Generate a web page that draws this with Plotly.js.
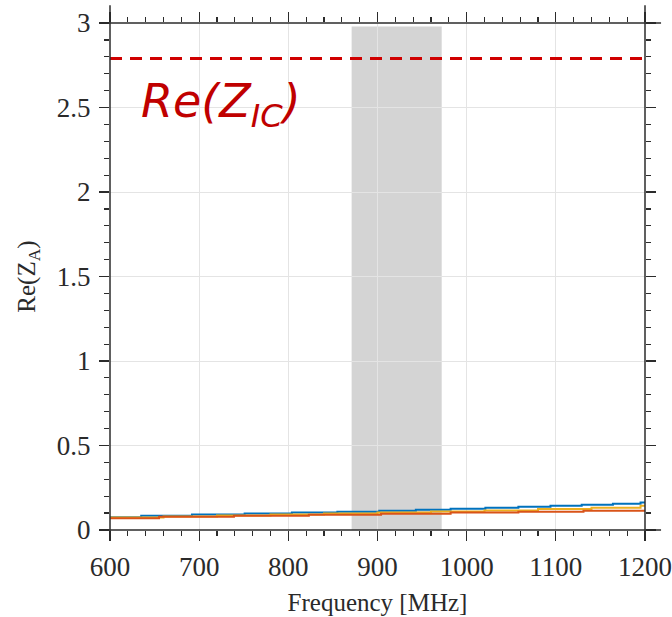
<!DOCTYPE html>
<html>
<head>
<meta charset="utf-8">
<script src="https://cdn.plot.ly/plotly-3.0.1.min.js"></script>
<style>html,body{margin:0;padding:0;background:#fff;}#chart{width:672px;height:617px;}</style>
</head>
<body>
<div id="chart"></div>
<script>
// Frequencies (MHz) and Re(Z_A) values (step traces)
var blueFreq  = [600, 635, 692, 751, 804, 855, 902, 943, 982, 1021, 1058, 1094, 1129, 1164, 1195, 1200];
var blueVal   = [0.076, 0.084, 0.092, 0.098, 0.104, 0.108, 0.114, 0.120, 0.126, 0.132, 0.138, 0.144, 0.150, 0.156, 0.162, 0.162];
var yellowFreq = [600, 660, 720, 780, 840, 900, 960, 1020, 1080, 1140, 1195, 1200];
var yellowVal  = [0.074, 0.080, 0.086, 0.092, 0.098, 0.104, 0.110, 0.116, 0.124, 0.132, 0.144, 0.144];
var orangeFreq = [600, 655, 739, 823, 904, 982, 1058, 1131, 1200];
var orangeVal  = [0.070, 0.078, 0.084, 0.090, 0.096, 0.104, 0.108, 0.114, 0.114];
// Reference level Re(Z_IC)
var icFreq = [600, 1200];
var icVal  = [2.79, 2.79];
// Shaded band (MHz)
var bandStart = 871, bandEnd = 972;
var bandLow = -0.01, bandHigh = 2.98;
var xTicks = [600, 700, 800, 900, 1000, 1100, 1200];
var yTicks = [0, 0.5, 1, 1.5, 2, 2.5, 3];
var yTickText = ['0', '0.5', '1', '1.5', '2', '2.5', '3'];

var serif = 'Liberation Serif, DejaVu Serif, serif';
var axisCol = '#2b2b2b';
var textCol = '#2a2a2a';

var traces = [
  {x: blueFreq, y: blueVal, mode: 'lines', line: {shape: 'hv', color: '#0072BD', width: 2}, hoverinfo: 'skip'},
  {x: yellowFreq, y: yellowVal, mode: 'lines', line: {shape: 'hv', color: '#EDB120', width: 2}, hoverinfo: 'skip'},
  {x: orangeFreq, y: orangeVal, mode: 'lines', line: {shape: 'hv', color: '#D95319', width: 2}, hoverinfo: 'skip'},
  {x: icFreq, y: icVal, mode: 'lines', line: {color: '#D00000', width: 3, dash: '12px,8px'}, hoverinfo: 'skip'}
];

var axCommon = {
  showline: false,
  mirror: 'ticks',
  ticks: 'outside',
  ticklen: 10,
  tickwidth: 1.3,
  tickcolor: axisCol,
  showgrid: true,
  gridcolor: '#e4e4e4',
  gridwidth: 1,
  zeroline: false,
  tickfont: {family: serif, size: 27, color: textCol}
};

var layout = {
  width: 672, height: 617,
  margin: {l: 110, r: 27, t: 23, b: 87},
  paper_bgcolor: '#fff', plot_bgcolor: '#fff',
  showlegend: false,
  xaxis: Object.assign({}, axCommon, {
    range: [600, 1200],
    tickvals: xTicks,
    ticktext: xTicks.map(String),
    ticklabelstandoff: 3,
    minor: {dtick: 20, tick0: 600, ticks: 'outside', ticklen: 5, tickwidth: 1.2, tickcolor: axisCol, showgrid: false},
    title: {text: 'Frequency [MHz]', font: {family: serif, size: 25, color: textCol}, standoff: 12}
  }),
  yaxis: Object.assign({}, axCommon, {
    range: [0, 3],
    tickvals: yTicks,
    ticktext: yTickText,
    ticklabelstandoff: 3,
    minor: {dtick: 0.1, tick0: 0, ticks: 'outside', ticklen: 5, tickwidth: 1.2, tickcolor: axisCol, showgrid: false},
    title: {text: 'Re(Z<sub>A</sub>)', font: {family: serif, size: 25, color: textCol}, standoff: 14}
  }),
  shapes: [
    {type: 'rect', xref: 'x', yref: 'y', x0: bandStart, x1: bandEnd, y0: bandLow, y1: bandHigh,
     fillcolor: '#d4d4d4', line: {width: 0}, layer: 'below'},
    // axis frame lines (extending slightly past the corners)
    {type: 'line', xref: 'paper', yref: 'paper', x0: -0.019, x1: 1.03, y0: 0, y1: 0, line: {color: axisCol, width: 1.5}},
    {type: 'line', xref: 'paper', yref: 'paper', x0: -0.019, x1: 1.03, y0: 1, y1: 1, line: {color: axisCol, width: 1.5}},
    {type: 'line', xref: 'paper', yref: 'paper', x0: 0, x1: 0, y0: -0.02, y1: 1.035, line: {color: axisCol, width: 1.5}},
    {type: 'line', xref: 'paper', yref: 'paper', x0: 1, x1: 1, y0: -0.02, y1: 1.035, line: {color: axisCol, width: 1.5}}
  ],
  annotations: [
    {xref: 'x', yref: 'y', x: 632, y: 2.52, xanchor: 'left', yanchor: 'middle', showarrow: false,
     text: '<i>Re(Z<sub>IC</sub>)</i>', font: {family: 'DejaVu Sans, Noto Sans, sans-serif', size: 46, color: '#C00000'}}
  ]
};

Plotly.newPlot('chart', traces, layout, {displayModeBar: false, staticPlot: true});
</script>
</body>
</html>
